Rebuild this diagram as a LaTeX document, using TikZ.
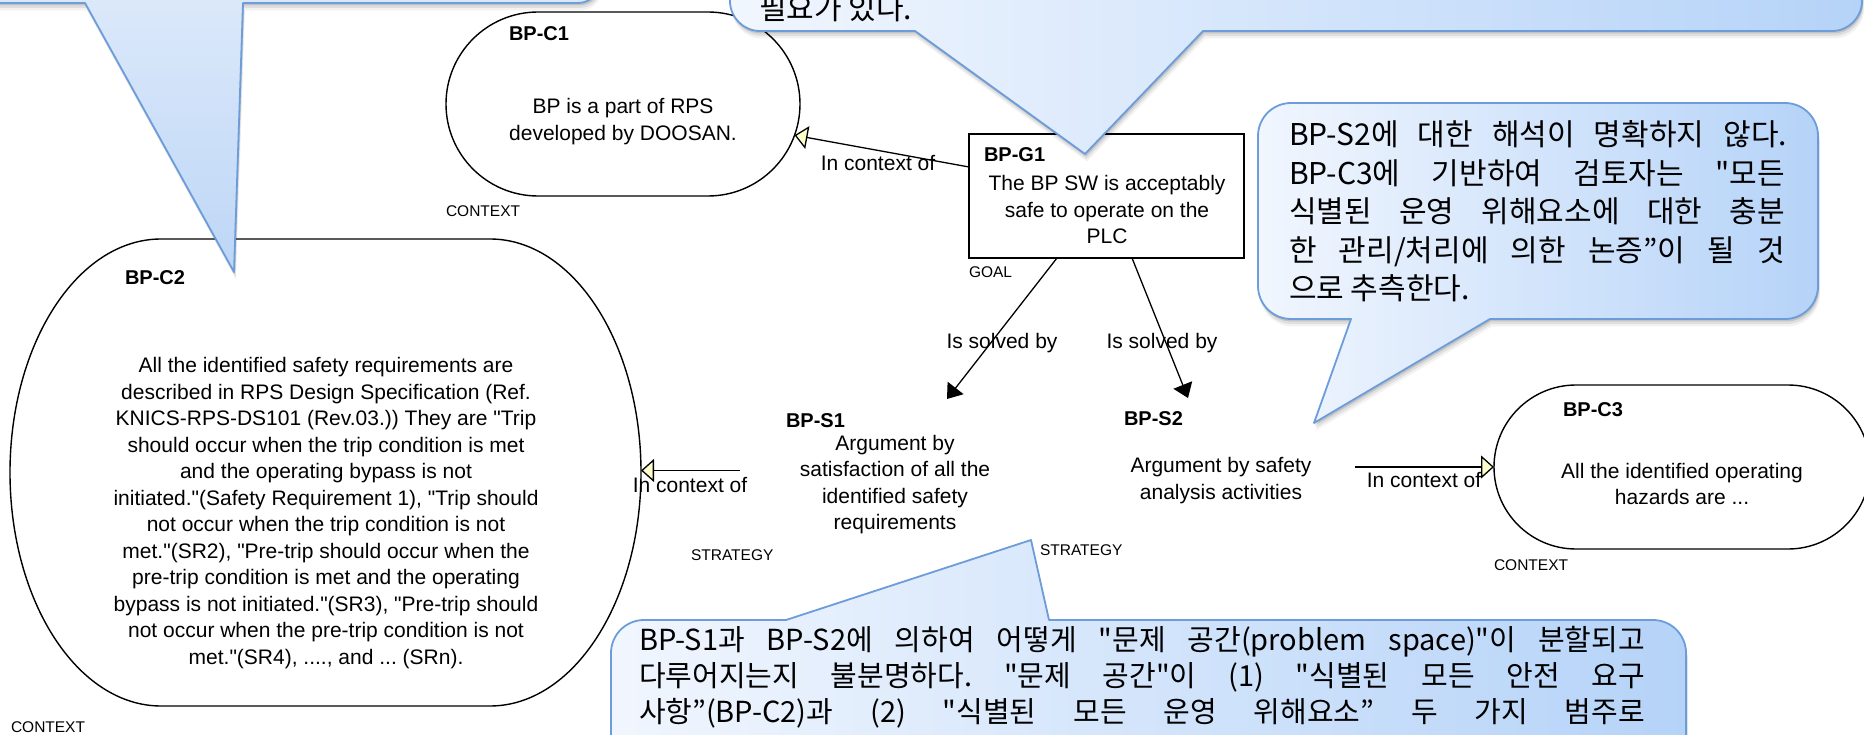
\documentclass[tikz,border=0pt]{standalone}
\usepackage{fontspec}
\setmainfont{Liberation Sans}[Ligatures=TeXOff]
\newfontfamily\korfont{Noto Sans CJK KR}[Ligatures=TeXOff]
\usetikzlibrary{arrows.meta,shapes.misc,shadows}

\definecolor{cbord}{HTML}{6C9CD9}
\definecolor{clight}{HTML}{F1F6FE}
\definecolor{cdark}{HTML}{B5D3F8}
\definecolor{ctxfill}{HTML}{FFFFCC}
\frenchspacing

\begin{document}
\begin{tikzpicture}[x=1pt,y=-1pt,
  every node/.style={inner sep=0pt, outer sep=0pt},
  lbl/.style={font=\fontsize{21}{26.5}\selectfont, align=center},
  gid/.style={font=\fontsize{20}{24}\selectfont\bfseries, anchor=west},
  kind/.style={font=\fontsize{15.5}{18}\selectfont, anchor=west},
  shapeline/.style={line width=1.4pt},
  ctxnode/.style={rounded rectangle, draw, shapeline},
  solved/.style={line width=1.3pt, -{Triangle[length=14pt,width=20pt]}},
  incontext/.style={line width=1.3pt, -{Triangle[length=13pt,width=23pt,fill=ctxfill]}},
  note/.style={draw=cbord, line width=1.8pt, line join=round,
    general shadow={shadow xshift=1pt, shadow yshift=-2.5pt, fill=black, opacity=0.12},
    general shadow={shadow xshift=1.5pt, shadow yshift=-5pt, fill=black, opacity=0.08},
    general shadow={shadow xshift=2pt, shadow yshift=-7.5pt, fill=black, opacity=0.05}},
  notetext/.style={anchor=base west, font=\korfont\frenchspacing}
]
\useasboundingbox (0,0) rectangle (1864,735);
\fill[white] (0,0) rectangle (1864,735);
\clip (0,0) rectangle (1864,735);

% ---------- context BP-C1 ----------
\node[ctxnode, minimum width=354pt, minimum height=184pt] (c1) at (623,104) {};
\node[gid] (c1id) at (509,34) {BP-C1};
\node[lbl] (c1txt) at (623,121.5) {BP is a part of RPS\\developed by DOOSAN.};
\node[kind] (c1kind) at (446,211.5) {CONTEXT};

% ---------- context BP-C2 (elliptical ends) ----------
\node[minimum width=631pt, minimum height=467pt] (c2) at (325.5,472.5) {};
\draw[shapeline] ([xshift=151pt]c2.north west) -- ([xshift=-151pt]c2.north east)
  arc[start angle=90, end angle=-90, x radius=151pt, y radius=233.5pt]
  -- ([xshift=151pt]c2.south west)
  arc[start angle=270, end angle=90, x radius=151pt, y radius=233.5pt] -- cycle;
\node[gid] (c2id) at (125,277.5) {BP-C2};
\node[lbl] (c2txt) at (326,513) {All the identified safety requirements are\\
described in RPS Design Specification (Ref.\\
KNICS-RPS-DS101 (Rev.03.)) They are "Trip\\
should occur when the trip condition is met\\
and the operating bypass is not\\
initiated."(Safety Requirement 1), "Trip should\\
not occur when the trip condition is not\\
met."(SR2), "Pre-trip should occur when the\\
pre-trip condition is met and the operating\\
bypass is not initiated."(SR3), "Pre-trip should\\
not occur when the pre-trip condition is not\\
met."(SR4), ...., and ... (SRn).};
\node[kind] (c2kind) at (11,727) {CONTEXT};

% ---------- goal BP-G1 ----------
\node[draw, shapeline, minimum width=275pt, minimum height=124pt] (g1) at (1106.5,196) {};
\node[gid] (g1id) at (984,154.5) {BP-G1};
\node[lbl] (g1txt) at (1107,209.5) {The BP SW is acceptably\\safe to operate on the\\PLC};
\node[kind] (g1kind) at (969,272.5) {GOAL};

% ---------- strategies ----------
\node[gid] (s1id) at (786,420.5) {BP-S1};
\node[lbl] (s1txt) at (895,484.5) {Argument by\\satisfaction of all the\\identified safety\\requirements};
\node[kind] (s1kind) at (691,555) {STRATEGY};

\node[gid] (s2id) at (1124,419) {BP-S2};
\node[lbl] (s2txt) at (1221,480.5) {Argument by safety\\analysis activities};
\node[kind] (s2kind) at (1040,550.5) {STRATEGY};

% ---------- context BP-C3 ----------
\node[ctxnode, minimum width=376pt, minimum height=164pt] (c3) at (1682,467) {};
\node[gid] (c3id) at (1563,409.5) {BP-C3};
\node[lbl] (c3txt) at (1682,484) {All the identified operating\\hazards are ...};
\node[kind] (c3kind) at (1494,565) {CONTEXT};

% ---------- connectors ----------
\coordinate (s1top) at (947,399);
\coordinate (s2top) at (1188,398);
\coordinate (s1side) at (740,470.5);
\coordinate (s2side) at (1355,467);

\draw[incontext] ([yshift=29pt]g1.west) -- (c1);
\draw[solved] ([xshift=-49.5pt]g1.south) -- (s1top);
\draw[solved] ([xshift=25.5pt]g1.south) -- (s2top);
\draw[incontext] (s1side) -- (s1side -| c2.east);
\draw[incontext] (s2side) -- (c3.west);

\node[lbl] (l1) at (878,163.5) {In context of};
\node[lbl] (l2) at (1002,343) {Is solved by};
\node[lbl] (l3) at (1162,343) {Is solved by};
\node[lbl] (l4) at (690,485) {In context of};
\node[lbl] (l5) at (1424,480) {In context of};

% ---------- review callouts ----------
\draw[note, top color={rgb,255:red,230;green,239;blue,252}, bottom color={rgb,255:red,189;green,214;blue,246}]
  (-60,-100) -- (600,-100) -- (600,-19) arc[start angle=0, end angle=-90, radius=22pt]
  -- (243,3) -- (234,272) -- (85,3) -- (-60,3) -- cycle;

\draw[note, left color=clight, right color=cdark]
  (730,-200) -- (1862,-200) -- (1862,1) arc[start angle=0, end angle=-90, radius=30pt]
  -- (1203,31) -- (1085,154) -- (915,31) -- (760,31)
  arc[start angle=-90, end angle=-180, radius=30pt] -- cycle;
\node[notetext] (noteb) at (759,20) {\fontsize{30}{38.5}\selectfont 필요가 있다.};

\draw[note, left color=clight, right color=cdark]
  (1291,103) -- (1785,103) arc[start angle=90, end angle=0, radius=33pt]
  -- (1818,286) arc[start angle=0, end angle=-90, radius=33pt]
  -- (1490,319) -- (1314,423) -- (1351,319) -- (1291,319)
  arc[start angle=-90, end angle=-180, radius=33pt]
  -- (1258,136) arc[start angle=180, end angle=90, radius=33pt] -- cycle;
\node[notetext] (notec) at (1289,146) {\fontsize{30}{38.5}\selectfont%
\parbox[t]{510pt}{%
\makebox[498pt][s]{BP-S2에 대한 해석이 명확하지 않다.}\\
\makebox[496pt][s]{BP-C3에 기반하여 검토자는 "모든}\\
\makebox[496pt][s]{식별된 운영 위해요소에 대한 충분}\\
\makebox[496pt][s]{한 관리/처리에 의한 논증”이 될 것}\\
으로 추측한다.}};

\draw[note, left color=clight, right color=cdark]
  (644,620) -- (786,620) -- (1031,540) -- (1049,620) -- (1653,620)
  arc[start angle=90, end angle=0, radius=33pt]
  -- (1686,800) -- (611,800) -- (611,653)
  arc[start angle=180, end angle=90, radius=33pt] -- cycle;
\node[notetext] (noted) at (639,650) {\fontsize{29}{36.2}\selectfont%
\parbox[t]{1020pt}{%
\makebox[1006pt][s]{BP-S1과 BP-S2에 의하여 어떻게 "문제 공간(problem space)"이 분할되고}\\
\makebox[1006pt][s]{다루어지는지 불분명하다. "문제 공간"이 (1) "식별된 모든 안전 요구}\\
\makebox[1006pt][s]{사항”(BP-C2)과 (2) "식별된 모든 운영 위해요소” 두 가지 범주로}}};
\end{tikzpicture}
\end{document}
